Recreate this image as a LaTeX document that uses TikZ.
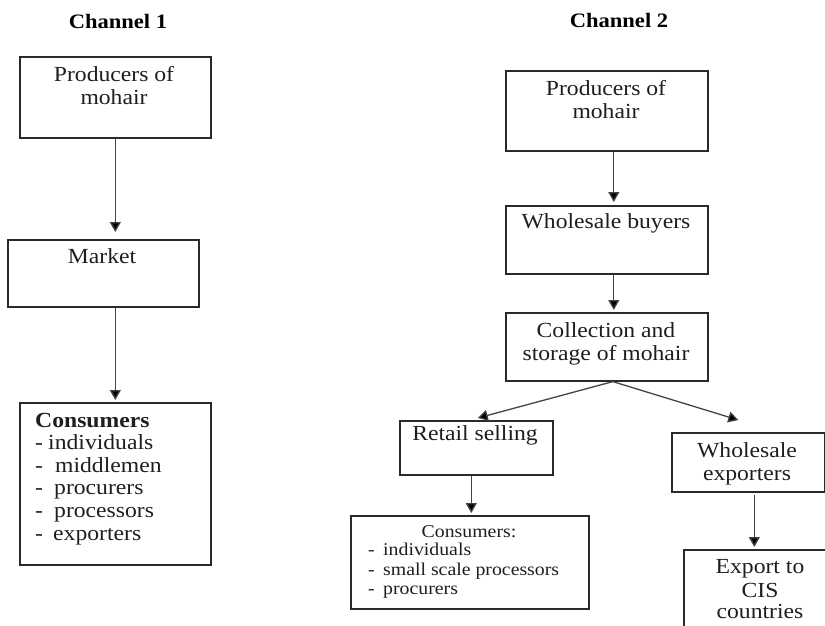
\documentclass[tikz,border=0pt]{standalone}
\usepackage{fontspec}
\setmainfont{Liberation Serif}[FakeStretch=1.1]
\usetikzlibrary{arrows.meta}
\definecolor{ink}{HTML}{1E1E1E}
\definecolor{frame}{HTML}{2A2A2A}
\definecolor{stem}{HTML}{444444}
\tikzset{
  box/.style={draw=frame, line width=1.6pt, inner sep=0pt, anchor=north west},
  txt/.style={inner sep=0pt, anchor=base, text=ink, font=\fontsize{21.5}{23}\selectfont},
  ltxt/.style={txt, anchor=base west},
  stxt/.style={inner sep=0pt, anchor=base, text=ink, font=\fontsize{18}{19}\selectfont},
  sltxt/.style={stxt, anchor=base west},
  head/.style={inner sep=0pt, anchor=base, text=black, font=\fontsize{20.5}{22}\selectfont\bfseries},
  arr/.style={draw=stem, line width=1.3pt, -{Triangle[width=11pt,length=10pt,fill=black]}},
}
\begin{document}
\begin{tikzpicture}[x=1pt,y=-1pt]
\useasboundingbox (0,0) rectangle (825,625);
\clip (0,0) rectangle (825,625);

% headings
\node[head] (h1) at (118,28) {Channel 1};
\node[head] (h2) at (619,27) {Channel 2};

% ---- Channel 1 ----
\node[box, minimum width=191pt, minimum height=81pt] (c1p) at (19,56) {};
\node[txt] (c1pa) at (114,81) {Producers of};
\node[txt] (c1pb) at (114,104) {mohair};

\node[box, minimum width=191pt, minimum height=67pt] (c1m) at (7,239) {};
\node[txt] (c1ma) at (102,263) {Market};

\node[box, minimum width=191pt, minimum height=162pt] (c1c) at (19,402) {};
\node[ltxt, font=\fontsize{21.5}{23}\selectfont\bfseries] (c1c0) at (35,427) {Consumers};
\node[ltxt] (c1d1) at (35,449) {-};
\node[ltxt] (c1c1) at (48,449) {individuals};
\node[ltxt] (c1d2) at (35,472) {-};
\node[ltxt] (c1c2) at (55,472) {middlemen};
\node[ltxt] (c1d3) at (35,494) {-};
\node[ltxt] (c1c3) at (54,494) {procurers};
\node[ltxt] (c1d4) at (35,517) {-};
\node[ltxt] (c1c4) at (54,517) {processors};
\node[ltxt] (c1d5) at (35,540) {-};
\node[ltxt] (c1c5) at (53,540) {exporters};

\draw[arr, shorten >=7pt] (c1p.south) -- (c1p.south |- c1m.north);
\draw[arr, shorten >=2pt] (c1m.south -| c1p.south) -- (c1p.south |- c1c.north);

% ---- Channel 2 ----
\node[box, minimum width=202pt, minimum height=80pt] (c2p) at (505,70) {};
\node[txt] (c2pa) at (606,95) {Producers of};
\node[txt] (c2pb) at (606,118) {mohair};

\node[box, minimum width=202pt, minimum height=68pt] (c2w) at (505,205) {};
\node[txt] (c2wa) at (606,228) {Wholesale buyers};

\node[box, minimum width=202pt, minimum height=68pt] (c2c) at (505,312) {};
\node[txt] (c2ca) at (606,337) {Collection and};
\node[txt] (c2cb) at (606,360) {storage of mohair};

\node[box, minimum width=153pt, minimum height=54pt] (c2r) at (399,420) {};
\node[txt] (c2ra) at (475,440) {Retail selling};

\node[box, minimum width=238pt, minimum height=93pt] (c2k) at (350,515) {};
\node[stxt] (c2k0) at (469,537) {Consumers:};
\node[sltxt] (c2d1) at (368,555) {-};
\node[sltxt] (c2k1) at (383,555) {individuals};
\node[sltxt] (c2d2) at (368,575) {-};
\node[sltxt] (c2k2) at (383,575) {small scale processors};
\node[sltxt] (c2d3) at (368,594) {-};
\node[sltxt] (c2k3) at (383,594) {procurers};

\node[box, minimum width=153pt, minimum height=59pt] (c2e) at (671,432) {};
\node[txt] (c2ea) at (747,457) {Wholesale};
\node[txt] (c2eb) at (747,480) {exporters};

\node[box, minimum width=154pt, minimum height=120pt] (c2x) at (683,549) {};
\node[txt] (c2xa) at (760,573) {Export to};
\node[txt] (c2xb) at (760,597) {CIS};
\node[txt] (c2xc) at (760,618) {countries};

\draw[arr, shorten >=3pt] ([xshift=7pt]c2p.south) -- ([xshift=7pt]c2p.south |- c2w.north);
\draw[arr, shorten >=2pt] ([xshift=7pt]c2w.south) -- ([xshift=7pt]c2w.south |- c2c.north);
\draw[arr] ([xshift=6pt]c2c.south) -- ([xshift=1.5pt,yshift=2pt]c2r.north);
\draw[arr] ([xshift=6pt]c2c.south) -- ([xshift=-10pt,yshift=12pt]c2e.north);
\draw[arr, shorten >=2pt] ([xshift=-5pt]c2r.south) -- ([xshift=-5pt]c2r.south |- c2k.north);
\draw[arr, shorten >=2pt] ([xshift=6pt,yshift=-2pt]c2e.south) -- ([xshift=6pt]c2e.south |- c2x.north);
\end{tikzpicture}
\end{document}
